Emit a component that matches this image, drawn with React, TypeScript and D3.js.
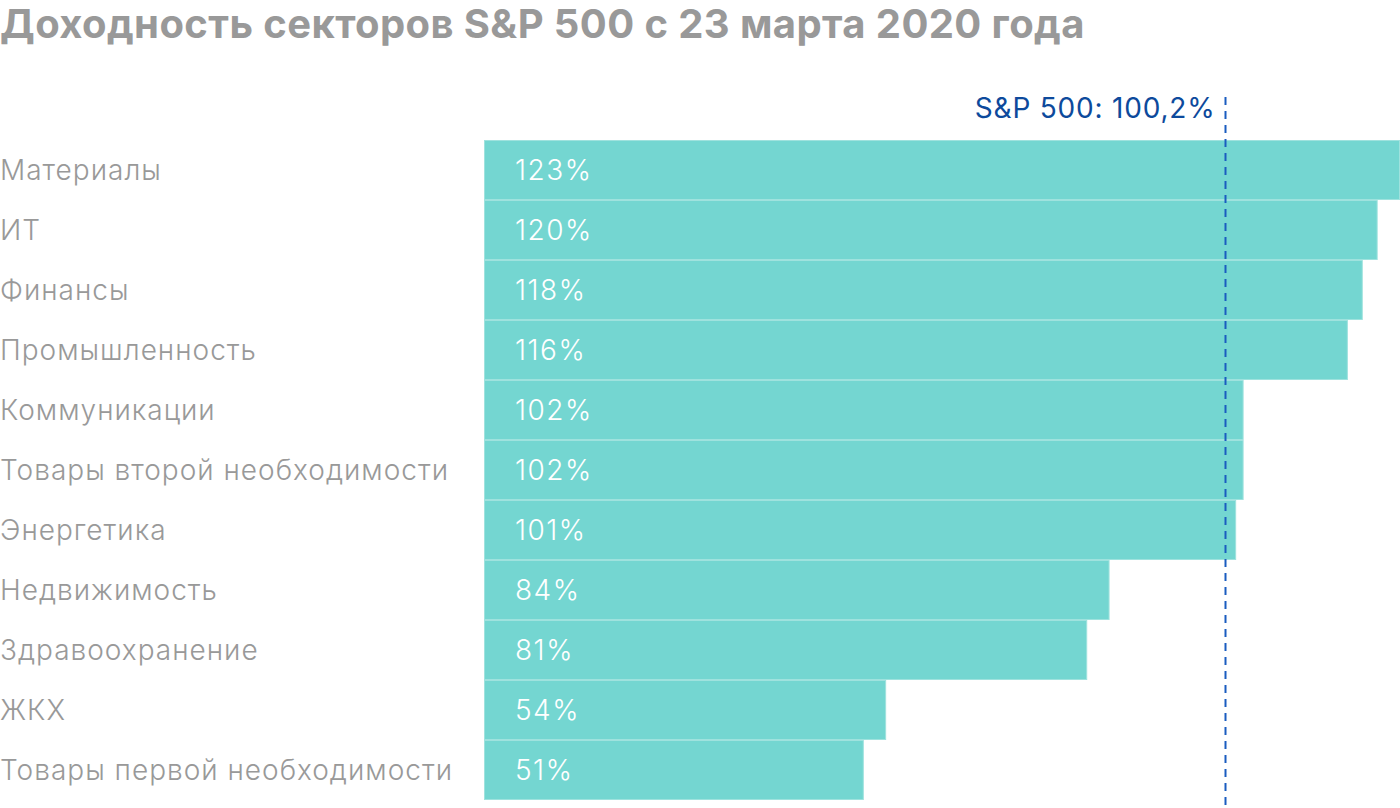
import { useEffect, useRef } from "react"
import * as d3 from "d3"

const sectors = [
  "Материалы",
  "ИТ",
  "Финансы",
  "Промышленность",
  "Коммуникации",
  "Товары второй необходимости",
  "Энергетика",
  "Недвижимость",
  "Здравоохранение",
  "ЖКХ",
  "Товары первой необходимости",
]
const returns = [123, 120, 118, 116, 102, 102, 101, 84, 81, 54, 51]
const benchmark = 100.2
const benchmarkLabel = "S&P 500: 100,2%"
const title = "Доходность секторов S&P 500 с 23 марта 2020 года"

const width = 1400
const height = 808
const font = "Inter, Roboto, sans-serif"

export default function App() {
  const svgRef = useRef<SVGSVGElement>(null)

  useEffect(() => {
    document.body.style.margin = "0"
    if (!svgRef.current) return
    const svg = d3.select(svgRef.current)
    svg.selectAll("*").remove()

    const x = d3.scaleLinear().domain([0, 123]).range([484, 1400])
    const y = d3.scaleBand().domain(sectors).range([140, 800]).padding(0)

    svg
      .append("text")
      .attr("x", 0)
      .attr("y", 38)
      .attr("fill", "#999999")
      .attr("font-family", font)
      .attr("font-weight", 700)
      .attr("font-size", 40)
      .attr("letter-spacing", 0.4)
      .text(title)

    const rows = svg
      .selectAll("g.row")
      .data(sectors)
      .enter()
      .append("g")
      .attr("class", "row")

    // bars with a thin lighter edge
    rows
      .append("rect")
      .attr("x", x(0) + 0.5)
      .attr("y", (d) => y(d)! + 0.5)
      .attr("width", (d, i) => x(returns[i]) - x(0) - 1)
      .attr("height", y.bandwidth() - 1)
      .attr("fill", "#74d6d1")
      .attr("stroke", "#9fe2de")
      .attr("stroke-width", 1)

    rows
      .append("text")
      .attr("x", 0)
      .attr("y", (d) => y(d)! + 40)
      .attr("fill", "#999999")
      .attr("font-family", font)
      .attr("font-weight", 300)
      .attr("font-size", 28)
      .attr("letter-spacing", 1)
      .text((d) => d)

    rows
      .append("text")
      .attr("x", 515)
      .attr("y", (d) => y(d)! + 40)
      .attr("fill", "#ffffff")
      .attr("font-family", font)
      .attr("font-weight", 300)
      .attr("font-size", 28)
      .attr("letter-spacing", 1.5)
      .text((d, i) => `${returns[i]}%`)

    // S&P 500 reference line
    const bx = Math.round(x(benchmark)) - 4.5
    svg
      .append("line")
      .attr("x1", bx)
      .attr("x2", bx)
      .attr("y1", 97)
      .attr("y2", height)
      .attr("stroke", "#1a5cc0")
      .attr("stroke-width", 2)
      .attr("stroke-dasharray", "8,6")

    svg
      .append("text")
      .attr("x", bx - 10)
      .attr("y", 118)
      .attr("text-anchor", "end")
      .attr("fill", "#0d4a9c")
      .attr("font-family", font)
      .attr("font-weight", 400)
      .attr("font-size", 28)
      .attr("letter-spacing", 0.8)
      .text(benchmarkLabel)
  }, [])

  return <svg ref={svgRef} width={width} height={height} style={{ display: "block", background: "#fff" }} />
}
